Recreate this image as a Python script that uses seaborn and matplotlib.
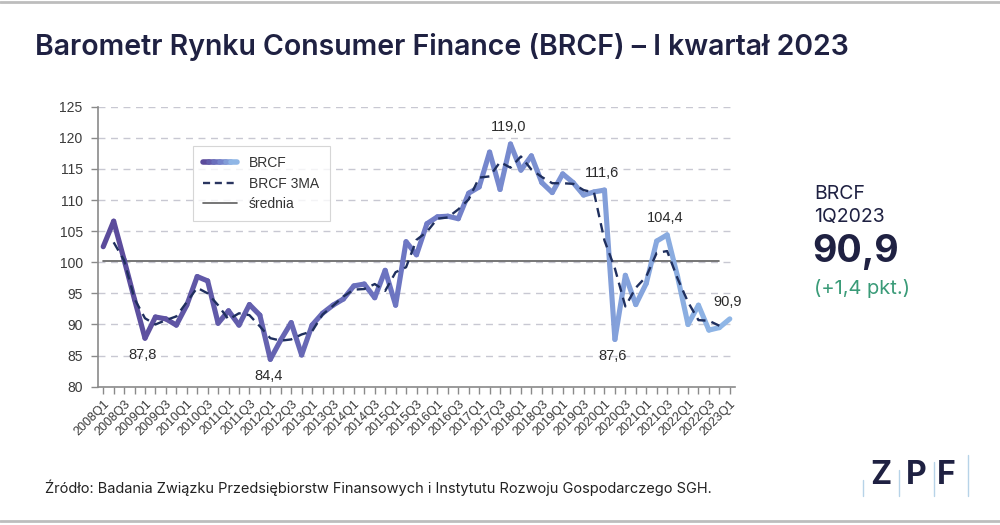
import numpy as np
import pandas as pd
import seaborn as sns
import matplotlib.pyplot as plt
from matplotlib.lines import Line2D
from matplotlib.legend_handler import HandlerTuple
from matplotlib.colors import LinearSegmentedColormap, to_hex

# ---------------- data ----------------
quarters = [f"{y}Q{q}" for y in range(2008, 2024) for q in range(1, 5)][:61]

brcf = [102.5, 106.6, 100.4, 94.0, 87.8, 91.2, 90.9, 89.9, 93.1, 97.7,
        97.0, 90.2, 92.2, 89.9, 93.2, 91.5, 84.4, 87.5, 90.3, 85.1,
        89.9, 91.8, 93.1, 94.1, 96.2, 96.5, 94.3, 98.7, 93.1, 103.3,
        101.2, 106.2, 107.3, 107.4, 107.0, 111.1, 112.1, 117.7, 111.7, 119.0,
        114.8, 117.1, 112.8, 111.2, 114.2, 112.8, 110.8, 111.3, 111.6, 87.6,
        97.9, 93.2, 96.6, 103.4, 104.4, 97.7, 90.0, 93.1, 89.1, 89.5,
        90.9]

# BRCF 3MA, 2008Q2 .. 2022Q4
brcf_3ma = [103.2, 100.3, 94.1, 91.0, 90.0, 90.7, 91.3, 93.6, 95.9,
            95.0, 93.1, 90.8, 91.8, 91.5, 89.7, 87.8, 87.4, 87.6, 88.4,
            88.9, 91.6, 93.0, 94.5, 95.6, 95.7, 96.5, 95.4, 98.4, 99.2,
            103.6, 104.9, 107.0, 107.2, 108.5, 110.1, 113.6, 113.8, 116.1, 115.2,
            117.0, 114.9, 113.7, 112.7, 112.7, 112.6, 111.6, 111.2, 103.5, 99.0,
            92.9, 95.9, 97.7, 101.5, 101.8, 97.4, 93.6, 90.7, 90.6, 89.8]

srednia = 100.2

labels_idx = [4, 16, 39, 48, 49, 54, 60]
labels_txt = ["87,8", "84,4", "119,0", "111,6", "87,6", "104,4", "90,9"]
labels_dir = [-1, -1, 1, 1, -1, 1, 1]

# ---------------- style ----------------
sns.set_theme(style="white")
plt.rcParams['font.family'] = ['Liberation Sans', 'DejaVu Sans']
navy = "#1f2142"

fig = plt.figure(figsize=(10, 5.25), dpi=100)
ax = fig.add_axes([0.098, 0.2634, 0.637, 0.5334])

x = np.arange(len(brcf))

# gradient line built from segments
cmap = LinearSegmentedColormap.from_list("g", ["#5b4b9b", "#6e78c4", "#8fb6e6"])
rows = []
for i in range(len(brcf) - 1):
    rows.append((i, brcf[i], f"s{i:02d}"))
    rows.append((i + 1, brcf[i + 1], f"s{i:02d}"))
seg_df = pd.DataFrame(rows, columns=["x", "y", "seg"])
segs = sorted(seg_df["seg"].unique())
pal = {s: to_hex(cmap(k / (len(segs) - 1))) for k, s in enumerate(segs)}

# mean line
sns.lineplot(x=x[:60], y=[srednia] * 60, color="#5f5f5f", lw=1.2, ax=ax, zorder=2)

sns.lineplot(data=seg_df, x="x", y="y", hue="seg", hue_order=segs, palette=pal,
             lw=3.7, legend=False, estimator=None, sort=False,
             solid_capstyle="round", ax=ax, zorder=3)

sns.lineplot(x=x[1:60], y=brcf_3ma, color="#1f2f5e", lw=1.7,
             linestyle=(0, (4, 2.6)), ax=ax, zorder=4)

# annotations
for i, t, d in zip(labels_idx, labels_txt, labels_dir):
    ax.annotate(t, (x[i], brcf[i]), xytext=(-1.5, 12 * d), textcoords="offset points",
                ha="center", va="center", fontsize=10.5, color="#2b2b2b")

# axes styling
ax.set_xlim(-0.5, 60.5)
ax.set_ylim(80, 125)
ax.set_yticks(range(80, 126, 5))
ax.set_xticks(x)
ax.set_xticklabels([q if i % 2 == 0 else "" for i, q in enumerate(quarters)],
                   rotation=45, ha="right", rotation_mode="anchor", fontsize=9,
                   color="#3a3a3a")
ax.tick_params(axis="y", labelsize=10, labelcolor="#3a3a3a", length=5, width=1,
               color="#8a8a8a", left=True, pad=6)
ax.tick_params(axis="x", length=5, width=1, color="#8a8a8a", bottom=True, pad=3)
ax.set_xlabel("")
ax.set_ylabel("")
ax.yaxis.grid(True, linestyle=(0, (5, 4)), color="#c8c8d2", lw=1)
ax.xaxis.grid(False)
for s in ["top", "right"]:
    ax.spines[s].set_visible(False)
for s in ["left", "bottom"]:
    ax.spines[s].set_color("#8a8a8a")
    ax.spines[s].set_linewidth(1.2)

# legend
grad_handles = tuple(Line2D([], [], color=to_hex(cmap(v)), lw=4) for v in np.linspace(0, 1, 6))
h_ma = Line2D([], [], color="#2a3560", lw=1.7, linestyle=(0, (3, 2)))
h_mean = Line2D([], [], color="#5f5f5f", lw=1.2)
leg = ax.legend([grad_handles, h_ma, h_mean], ["BRCF", "BRCF 3MA", "średnia"],
                handler_map={tuple: HandlerTuple(ndivide=None, pad=0)},
                loc="upper left", bbox_to_anchor=(0.149, 0.86), borderaxespad=0,
                frameon=True, fancybox=False, edgecolor="#cccccc", fontsize=10,
                handlelength=2.4, borderpad=0.75, labelspacing=0.45, handletextpad=0.9)
leg.get_frame().set_linewidth(0.8)
for t in leg.get_texts():
    t.set_color("#333333")

# title and side texts
ff = ["Inter", "DejaVu Sans"]
fig.text(0.035, 0.91, "Barometr Rynku Consumer Finance (BRCF) – I kwartał 2023",
         fontsize=20.5, fontweight="semibold", color=navy, family=ff, va="center")
fig.text(0.814, 1 - 194.5 / 525, "BRCF", fontsize=14, color=navy, family=ff, va="center")
fig.text(0.814, 1 - 217 / 525, "1Q2023", fontsize=14, color=navy, family=ff, va="center")
fig.text(0.812, 1 - 252 / 525, "90,9", fontsize=27, fontweight="bold", color=navy,
         family=ff, va="center")
fig.text(0.814, 1 - 289 / 525, "(+1,4 pkt.)", fontsize=14.5, color="#3a9b78",
         family=ff, va="center")
fig.text(0.045, 1 - 488 / 525,
         "Źródło: Badania Związku Przedsiębiorstw Finansowych i Instytutu Rozwoju Gospodarczego SGH.",
         fontsize=10.5, color="#222222", family=ff, va="center")

# logo
for cx, ch in [(0.881, "Z"), (0.916, "P"), (0.946, "F")]:
    fig.text(cx, 1 - 475 / 525, ch, fontsize=23, fontweight="bold", color=navy,
             family=ff, ha="center", va="center")
for lx, y0 in [(0.863, 480), (0.899, 470), (0.934, 462), (0.968, 455)]:
    fig.add_artist(Line2D([lx, lx], [1 - 496 / 525, 1 - y0 / 525],
                          transform=fig.transFigure, color="#b7d3e8", lw=1))

# frame lines
fig.add_artist(Line2D([0, 1], [0.997, 0.997], transform=fig.transFigure, color="#bdbdbd", lw=2))
fig.add_artist(Line2D([0, 1], [1 - 521 / 525, 1 - 521 / 525], transform=fig.transFigure,
                      color="#bdbdbd", lw=2))

fig.savefig("out.png", dpi=100, facecolor="white")
